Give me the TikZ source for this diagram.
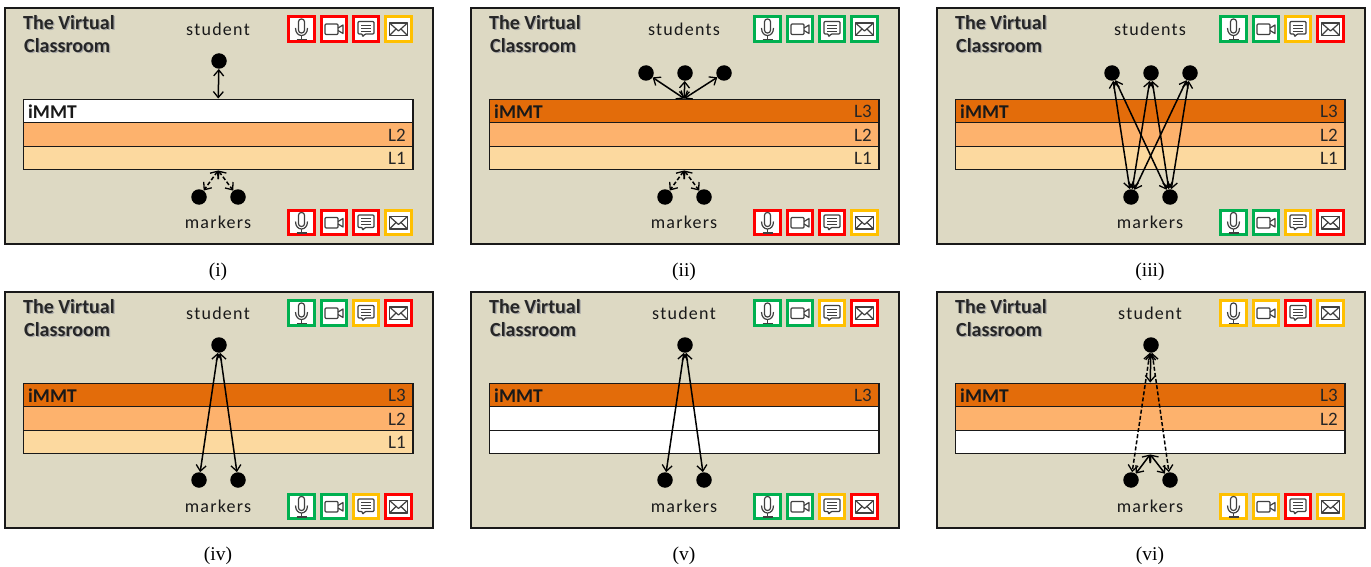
\documentclass[tikz,border=0pt]{standalone}
\usepackage{fontspec}
\setmainfont{Carlito}
\newfontfamily\capfont{Liberation Serif}
\newfontfamily\whofont[LetterSpace=7]{Carlito}
\usetikzlibrary{arrows.meta}
\definecolor{panelbg}{HTML}{DDD9C3}
\definecolor{lthree}{HTML}{E36C0A}
\definecolor{ltwo}{HTML}{FDB26D}
\definecolor{lone}{HTML}{FCD99F}
\definecolor{cr}{HTML}{FF0000}
\definecolor{cg}{HTML}{00B050}
\definecolor{cy}{HTML}{FFC000}
\definecolor{icn}{HTML}{404040}
\tikzset{
  x=1pt,y=-1pt,
  framebox/.style={draw=black!90,fill=panelbg,line width=2.5pt,minimum width=428pt,minimum height=236pt,inner sep=0pt},
  band/.style={draw=black!90,line width=1.4pt,minimum width=389.5pt,minimum height=23.5pt,inner sep=0pt},
  bandtag/.style={font=\fontsize{19}{21}\selectfont,text=black!85,inner sep=0pt},
  immt/.style={font=\fontsize{19.5}{22}\bfseries,text=black!90,inner sep=0pt,anchor=west},
  titletxt/.style={font=\fontsize{20}{22}\bfseries,text=black!85,inner sep=0pt,anchor=west},
  who/.style={font=\whofont\fontsize{18}{20}\selectfont,text=black!90,inner sep=0pt},
  captxt/.style={font=\capfont\fontsize{19.5}{22}\selectfont,text=black,inner sep=0pt},
  dotnode/.style={circle,fill=black,inner sep=0pt,minimum size=15.5pt},
  ibox/.style={rectangle,fill=white,line width=3.2pt,minimum width=25.5pt,minimum height=24.5pt,inner sep=0pt},
  lnk/.style={line width=1.5pt,black,{Straight Barb[length=6pt,width=10pt,line width=1.3pt]}-{Straight Barb[length=6pt,width=10pt,line width=1.3pt]}},
  dlnk/.style={lnk,dash pattern=on 4pt off 2.2pt},
  ico/.style={draw=icn,line width=1.2pt,line join=round},
  mic/.pic={
    \draw[ico,rounded corners=2.8pt] (-3,-10) rectangle (3,4);
    \draw[ico] (-6,-1) .. controls (-6,9) and (6,9) .. (6,-1);
    \draw[ico] (0,6.5) -- (0,10.5) (-5,10.5) -- (5,10.5);
  },
  cam/.pic={
    \draw[ico,rounded corners=1pt] (-9,-5) rectangle (4,5.5);
    \draw[ico] (4,-1) -- (9,-4) -- (9,4.5) -- (4,1.5);
  },
  chat/.pic={
    \draw[ico,rounded corners=1pt] (-8,-7.5) -- (8,-7.5) -- (8,5) -- (-1,5) -- (-3.5,8) -- (-3.5,5) -- (-8,5) -- cycle;
    \draw[icn,line width=.8pt] (-5,-4) -- (5,-4) (-5,-1) -- (5,-1) (-5,2) -- (5,2);
  },
  env/.pic={
    \draw[ico] (-9,-6) rectangle (9,6.5);
    \draw[ico] (-9,-6) -- (0,2) -- (9,-6) (-9,6.5) -- (-2.5,0) (9,6.5) -- (2.5,0);
  },
}
\newcommand{\iconrow}[6]{%
  \node[ibox,draw=#3] (#1a) at (301.5,#2) {}; \pic at (#1a.center) {mic};
  \node[ibox,draw=#4] (#1b) at (334,#2) {};   \pic at (#1b.center) {cam};
  \node[ibox,draw=#5] (#1c) at (366,#2) {};   \pic at (#1c.center) {chat};
  \node[ibox,draw=#6] (#1d) at (398.5,#2) {}; \pic at (#1d.center) {env};
}
\newcommand{\panelbase}[6]{%
  \node[framebox] (#1f) at (219,126) {};
  \node[titletxt] (#1t) at (23,23) {\rlap{\kern1.2pt\raisebox{-1.2pt}{\textcolor{black!35}{The Virtual}}}The Virtual};
  \node[titletxt] (#1u) at (24,46) {\rlap{\kern1.2pt\raisebox{-1.2pt}{\textcolor{black!35}{Classroom}}}Classroom};
  \node[who] (#1w) at (218,29) {#2};
  \node[who] (#1m) at (218,222) {markers};
  \node[band,fill=#3] (#1three) at (218.2,111) {};
  \node[band,fill=#4] (#1two) at (218.2,134.5) {};
  \node[band,fill=#5] (#1one) at (218.2,158) {};
  \node[immt] (#1i) at (28,111.5) {iMMT};
  \node[captxt] (#1cap) at (218,272) {#6};
}
\newcommand{\tags}[4]{%
  \node[bandtag,anchor=east] (#1l3) at (406,111.5) {#2};
  \node[bandtag,anchor=east] (#1l2) at (406,135) {#3};
  \node[bandtag,anchor=east] (#1l1) at (406,158.5) {#4};
}
\begin{document}
\begin{tikzpicture}
\useasboundingbox (0,0) rectangle (1371,567);
% (i)
\begin{scope}
\panelbase{A}{student}{white}{ltwo}{lone}{(i)}
\tags{A}{}{L2}{L1}
\iconrow{At}{29}{cr}{cr}{cr}{cy}
\iconrow{Ab}{222.5}{cr}{cr}{cr}{cy}
\node[dotnode] (As) at (219,61) {};
\node[dotnode] (Ap) at (199,197) {};
\node[dotnode] (Aq) at (238,197) {};
\draw[lnk] (As) -- (Athree.north);
\draw[dlnk] (Aone.south) -- (Ap);
\draw[dlnk] (Aone.south) -- (Aq);
\end{scope}
% (ii)
\begin{scope}[shift={(466,0)}]
\panelbase{B}{students}{lthree}{ltwo}{lone}{(ii)}
\tags{B}{L3}{L2}{L1}
\iconrow{Bt}{29}{cg}{cg}{cg}{cg}
\iconrow{Bb}{222.5}{cr}{cr}{cr}{cy}
\node[dotnode] (Br) at (180,73) {};
\node[dotnode] (Bs) at (219,73) {};
\node[dotnode] (Bv) at (258,73) {};
\node[dotnode] (Bp) at (199,197) {};
\node[dotnode] (Bq) at (238,197) {};
\draw[lnk] (Bthree.north) -- (Br);
\draw[lnk] (Bthree.north) -- (Bs);
\draw[lnk] (Bthree.north) -- (Bv);
\draw[dlnk] (Bone.south) -- (Bp);
\draw[dlnk] (Bone.south) -- (Bq);
\end{scope}
% (iii)
\begin{scope}[shift={(932,0)}]
\panelbase{C}{students}{lthree}{ltwo}{lone}{(iii)}
\tags{C}{L3}{L2}{L1}
\iconrow{Ct}{29}{cg}{cg}{cy}{cr}
\iconrow{Cb}{222.5}{cg}{cg}{cy}{cr}
\node[dotnode] (Cr) at (180,73) {};
\node[dotnode] (Cs) at (219,73) {};
\node[dotnode] (Cv) at (258,73) {};
\node[dotnode] (Cp) at (199,197) {};
\node[dotnode] (Cq) at (238,197) {};
\foreach \u in {Cr,Cs,Cv} \foreach \w in {Cp,Cq} \draw[lnk] (\u) -- (\w);
\end{scope}
% (iv)
\begin{scope}[shift={(0,284)}]
\panelbase{D}{student}{lthree}{ltwo}{lone}{(iv)}
\tags{D}{L3}{L2}{L1}
\iconrow{Dt}{29}{cg}{cg}{cy}{cr}
\iconrow{Db}{222.5}{cg}{cg}{cy}{cr}
\node[dotnode] (Ds) at (219,61) {};
\node[dotnode] (Dp) at (199,196) {};
\node[dotnode] (Dq) at (238,196) {};
\draw[lnk] (Ds) -- (Dp);
\draw[lnk] (Ds) -- (Dq);
\end{scope}
% (v)
\begin{scope}[shift={(466,284)}]
\panelbase{E}{student}{lthree}{white}{white}{(v)}
\tags{E}{L3}{}{}
\iconrow{Et}{29}{cg}{cg}{cy}{cr}
\iconrow{Eb}{222.5}{cg}{cg}{cy}{cr}
\node[dotnode] (Es) at (219,61) {};
\node[dotnode] (Ep) at (199,196) {};
\node[dotnode] (Eq) at (238,196) {};
\draw[lnk] (Es) -- (Ep);
\draw[lnk] (Es) -- (Eq);
\end{scope}
% (vi)
\begin{scope}[shift={(932,284)}]
\panelbase{F}{student}{lthree}{ltwo}{white}{(vi)}
\tags{F}{L3}{L2}{}
\iconrow{Ft}{29}{cy}{cy}{cr}{cy}
\iconrow{Fb}{222.5}{cy}{cy}{cr}{cy}
\node[dotnode] (Fs) at (219,61) {};
\node[dotnode] (Fp) at (199,196) {};
\node[dotnode] (Fq) at (238,196) {};
\draw[lnk] (Fs) -- (Fthree.north);
\draw[dlnk] (Fs) -- (Fp);
\draw[dlnk] (Fs) -- (Fq);
\draw[lnk] (Fone.south) -- (Fp);
\draw[lnk] (Fone.south) -- (Fq);
\end{scope}
\end{tikzpicture}
\end{document}
